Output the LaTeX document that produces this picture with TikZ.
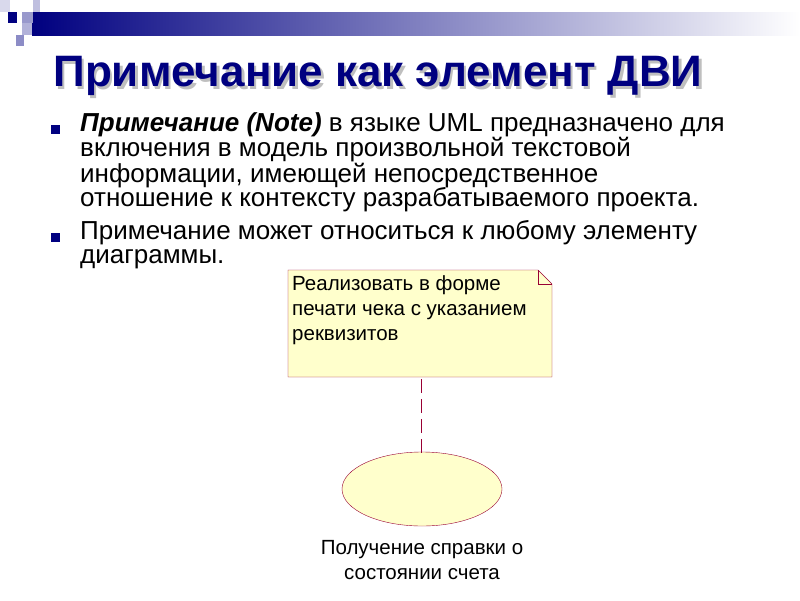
\documentclass[tikz,border=0pt]{standalone}
\usepackage{fontspec}
\setmainfont{Liberation Sans}
\definecolor{navy}{RGB}{0,0,128}
\definecolor{notefill}{RGB}{255,255,204}
\definecolor{noteline}{RGB}{153,0,51}
\tikzset{
 bul/.style={anchor=north west,align=left,font=\fontsize{26}{24.5}\selectfont,inner sep=0pt},
 notetxt/.style={anchor=north west,align=left,font=\fontsize{20.5}{25}\selectfont,inner sep=0pt},
 ttlfont/.style={font=\bfseries\fontsize{44}{48}\selectfont}}
\begin{document}
\begin{tikzpicture}[x=1pt,y=-1pt]
\useasboundingbox (0,0) rectangle (800,600);
\fill[white] (0,0) rectangle (800,600);
\shade[left color=navy,right color=white] (32,12) rectangle (800,35);
\fill[navy!15] (0,0) rectangle (10,12);
\fill[navy!25] (33,0) rectangle (40,12);
\fill[navy] (8,12) rectangle (17,23);
\fill[navy!40] (22,12) rectangle (33,23);
\fill[navy!30] (22,23) rectangle (32,35);
\fill[navy!45] (16,35) rectangle (24,46);
\node[ttlfont,text=black!25] at (380.5,78.5) {Примечание как элемент ДВИ};
\node[ttlfont,text=navy] (title) at (378,76) {Примечание как элемент ДВИ};
\fill[navy] (51,125) rectangle (60,134);
\fill[navy] (51,233) rectangle (60,242);
\node[bul] (b1) at (80,112) {\textbf{\itshape Примечание (Note)} в языке UML предназначено для\\включения в модель произвольной текстовой\\информации, имеющей непосредственное\\отношение к контексту разрабатываемого проекта.};
\node[bul] (b2) at (80,220) {Примечание может относиться к любому элементу\\диаграммы.};
\draw[noteline,fill=notefill] (288,270) -- (538,270) -- (552,284) -- (552,377) -- (288,377) -- cycle;
\draw[noteline] (538,270) -- (538,284) -- (552,284);
\node[notetxt] (nt) at (292,275) {Реализовать в форме\\печати чека с указанием\\реквизитов};
\coordinate (nb) at (421,379);
\coordinate (et) at (421,453);
\draw[noteline,fill=notefill] (422,489) ellipse[x radius=80,y radius=37];
\draw[noteline,dash pattern=on 14pt off 6pt] (nb) -- (et);
\node[align=center,font=\fontsize{20.5}{25}\selectfont] (lab) at (422,560) {Получение справки о\\состоянии счета};
\end{tikzpicture}
\end{document}
